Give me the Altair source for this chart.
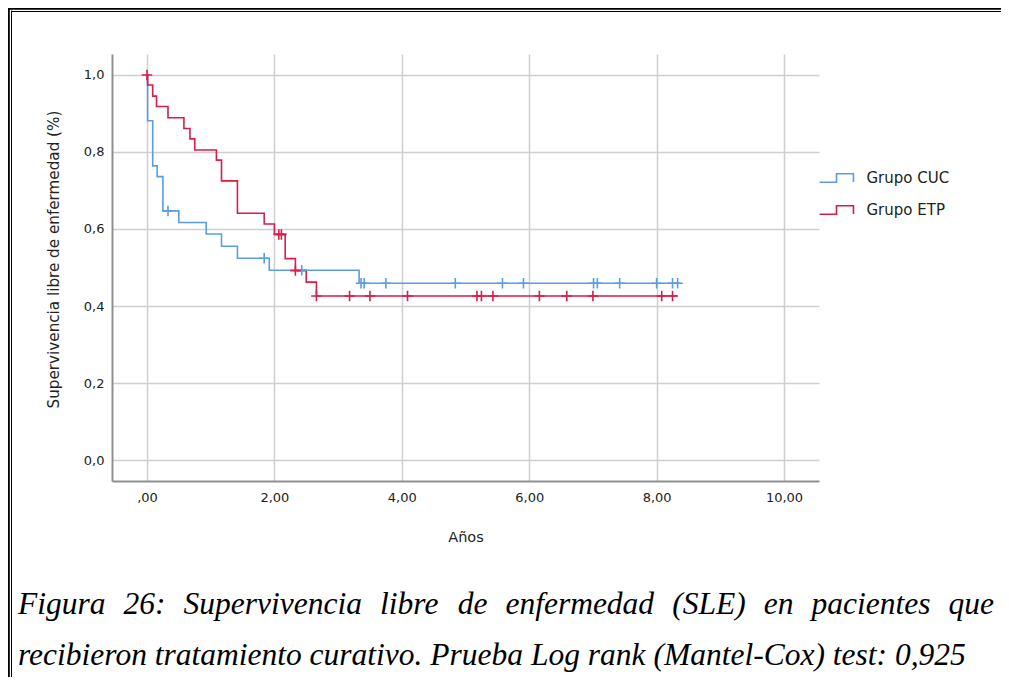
import altair as alt
import pandas as pd

# ---- Data (Kaplan-Meier steps) ----
grupos = ["Grupo CUC", "Grupo ETP"]

cuc_t = [0.0, 0.01, 0.09, 0.16, 0.25, 0.50, 0.93, 1.17, 1.42, 1.92, 3.33, 8.38]
cuc_s = [1.0, 0.881, 0.764, 0.736, 0.647, 0.617, 0.587, 0.555, 0.524, 0.493, 0.459, 0.459]
cuc_cens = [0.33, 1.84, 2.43, 3.36, 3.41, 3.75, 4.84, 5.58, 5.91, 7.01, 7.07, 7.42, 8.00, 8.25, 8.33]

etp_t = [0.0, 0.01, 0.09, 0.15, 0.33, 0.58, 0.675, 0.75, 1.09, 1.17, 1.42, 1.84, 2.00, 2.17, 2.33, 2.50, 2.66, 8.33]
etp_s = [1.0, 0.974, 0.945, 0.918, 0.889, 0.861, 0.834, 0.805, 0.779, 0.725, 0.641, 0.613, 0.586, 0.523, 0.492, 0.462, 0.426, 0.426]
etp_cens = [0.0, 2.07, 2.11, 2.33, 2.66, 3.18, 3.50, 4.09, 5.18, 5.25, 5.43, 6.16, 6.59, 7.00, 8.08, 8.25]

x_ticks = [0, 2, 4, 6, 8, 10]
y_ticks = [0.0, 0.2, 0.4, 0.6, 0.8, 1.0]

caption_line1 = "Figura 26: Supervivencia libre de enfermedad (SLE) en pacientes que"
caption_line2 = "recibieron tratamiento curativo. Prueba Log rank (Mantel-Cox) test: 0,925"

colors = ["#5b9de3", "#d81d48"]


def s_at(ts, ss, t):
    v = ss[0]
    for ti, si in zip(ts, ss):
        if ti <= t + 1e-9:
            v = si
    return v


lines = pd.DataFrame(
    [{"grupo": grupos[0], "t": t, "s": s} for t, s in zip(cuc_t, cuc_s)]
    + [{"grupo": grupos[1], "t": t, "s": s} for t, s in zip(etp_t, etp_s)]
)
cens = pd.DataFrame(
    [{"grupo": grupos[0], "t": t, "s": s_at(cuc_t, cuc_s, t)} for t in cuc_cens]
    + [{"grupo": grupos[1], "t": t, "s": s_at(etp_t, etp_s, t)} for t in etp_cens]
)

# ---- Caption layout (justified first line, Times-italic metrics) ----
TI = {' ': 250, 'a': 500, 'b': 500, 'c': 444, 'd': 500, 'e': 444, 'f': 278, 'g': 500,
      'h': 500, 'i': 278, 'j': 278, 'k': 444, 'l': 278, 'm': 722, 'n': 500, 'o': 500,
      'p': 500, 'q': 500, 'r': 389, 's': 389, 't': 278, 'u': 500, 'v': 444, 'w': 667,
      'x': 444, 'y': 444, 'z': 389, 'F': 611, 'S': 500, 'L': 556, 'E': 611, 'P': 611,
      'M': 833, 'C': 667, '0': 500, '1': 500, '2': 500, '5': 500, '6': 500, '9': 500,
      ':': 333, '(': 333, ')': 333, '.': 250, '-': 333, ',': 250}
FS = 31.5
LEFT, RIGHT = -94, 882          # plot-relative pixel bounds of the caption
Y1, Y2 = 560, 611


def wwidth(w):
    return sum(TI.get(c, 500) for c in w) / 1000.0 * FS


words = caption_line1.split(" ")
total = sum(wwidth(w) for w in words)
gap = (RIGHT - LEFT - total) / (len(words) - 1)
rows = []
xpos = LEFT
for w in words:
    rows.append({"word": w, "px": xpos, "py": Y1})
    xpos += wwidth(w) + gap
rows.append({"word": caption_line2, "px": LEFT, "py": Y2})
cap = pd.DataFrame(rows)

# ---- Chart ----
xscale = alt.Scale(domain=[-0.549, 10.549], nice=False, zero=False)
yscale = alt.Scale(domain=[-0.0545, 1.0545], nice=False, zero=False)

xaxis = alt.Axis(values=x_ticks, title="Años", grid=True, ticks=False,
                 labelExpr="datum.value == 0 ? ',00' : replace(format(datum.value, '.2f'), '.', ',')",
                 labelPadding=10, titlePadding=26, labelFlush=False)
yaxis = alt.Axis(values=y_ticks, title="Supervivencia libre de enfermedad (%)", grid=True,
                 ticks=False, labelExpr="replace(format(datum.value, '.1f'), '.', ',')",
                 labelPadding=8, titlePadding=22, titleY=205, titleFontSize=15.2,
                 labelFlush=False)

legend = alt.Legend(orient="none", legendX=707.5, legendY=107, title=None,
                    symbolType="M-1.06,0.27H0V-0.27H1.06V0.25", symbolSize=1024,
                    symbolStrokeWidth=1.6, symbolFillColor="transparent",
                    labelFontSize=15, labelFont="DejaVu Sans", labelColor="#222222",
                    labelOffset=13, rowPadding=7, padding=0)
color = alt.Color("grupo:N", scale=alt.Scale(domain=grupos, range=colors), legend=legend)

line_layer = alt.Chart(lines).mark_line(interpolate="step-after", strokeWidth=1.6).encode(
    x=alt.X("t:Q", scale=xscale, axis=xaxis),
    y=alt.Y("s:Q", scale=yscale, axis=yaxis),
    color=color,
    order="t:Q",
)

cens_layer = alt.Chart(cens).mark_point(shape="M-1,0H1M0,-1V1", filled=False, size=110,
                                        strokeWidth=1.6, opacity=1).encode(
    x=alt.X("t:Q", scale=xscale),
    y=alt.Y("s:Q", scale=yscale),
    color=color,
)

cap_layer = alt.Chart(cap).mark_text(align="left", baseline="alphabetic", font="Liberation Serif",
                                     fontStyle="italic", fontSize=FS, color="#000000").encode(
    x=alt.X("px:Q", scale=None),
    y=alt.Y("py:Q", scale=None),
    text="word:N",
)

one = pd.DataFrame({"k": [0]})
frame = [
    alt.Chart(one).mark_rule(color="#000000", strokeWidth=1.8).encode(
        x=alt.value(-103.1), y=alt.value(-46), y2=alt.value(631)),
    alt.Chart(one).mark_rule(color="#000000", strokeWidth=1.0).encode(
        x=alt.value(-100.5), y=alt.value(-43.5), y2=alt.value(631)),
    alt.Chart(one).mark_rule(color="#000000", strokeWidth=1.8).encode(
        y=alt.value(-45.1), x=alt.value(-104), x2=alt.value(897)),
    alt.Chart(one).mark_rule(color="#000000", strokeWidth=1.0).encode(
        y=alt.value(-42.5), x=alt.value(-100.5), x2=alt.value(897)),
]

chart = alt.layer(line_layer, cens_layer, cap_layer, *frame).properties(
    width=707, height=427,
    padding={"left": 104, "top": 46, "right": 182, "bottom": 196},
    autosize=alt.AutoSizeParams(type="none"),
    background="white",
).configure_view(strokeWidth=0).configure_axis(
    gridColor="#cfcfcf", gridWidth=1.5, domainColor="#8f8f8f", domainWidth=2,
    labelFont="DejaVu Sans", labelFontSize=13, labelColor="#222222",
    titleFont="DejaVu Sans", titleFontSize=14.5, titleFontWeight="normal", titleColor="#222222",
)

chart.save("out.html", embed_options={"renderer": "svg", "actions": False})
